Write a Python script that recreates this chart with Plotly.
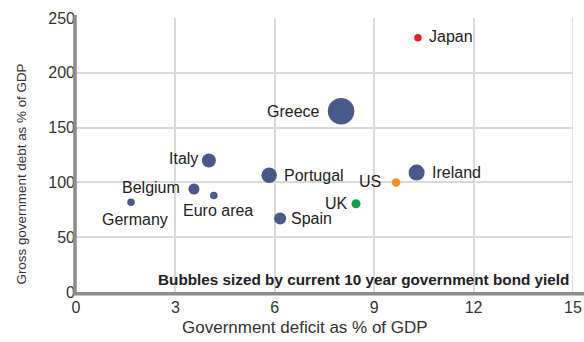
import plotly.graph_objects as go

# Government finances by country
countries = ["Japan", "Greece", "Italy", "Portugal", "Ireland", "US", "UK",
             "Spain", "Belgium", "Euro area", "Germany"]
deficit = [10.32, 8.0, 4.01, 5.83, 10.28, 9.66, 8.45, 6.16, 3.56, 4.16, 1.66]
debt = [232, 165, 120, 106.5, 109, 100, 80.5, 67, 94, 88, 82]
bond_yield = [0.88, 11.0, 3.06, 3.75, 4.0, 1.13, 1.27, 2.25, 1.9, 0.88, 0.88]

x_ticks = [0, 3, 6, 9, 12, 15]
y_ticks = [0, 50, 100, 150, 200, 250]

navy = "#48598a"
colors = ["#ec1c24", navy, navy, navy, navy, "#f7901e", "#0aa54b",
          navy, navy, navy, navy]

# label placement: (xanchor, yanchor, xshift, yshift)
label_pos = {
    "Japan": ("left", "middle", 9, 1),
    "Greece": ("right", "middle", -19, 0),
    "Italy": ("right", "middle", -9, 2),
    "Portugal": ("left", "middle", 13, 0),
    "Ireland": ("left", "middle", 13, 0),
    "US": ("right", "middle", -13, 1),
    "UK": ("right", "middle", -6, 0),
    "Spain": ("left", "middle", 9, 0),
    "Belgium": ("right", "middle", -12, 1),
    "Euro area": ("center", "middle", 4, -15),
    "Germany": ("center", "middle", 4, -17),
}

font = "Liberation Sans, Arial, sans-serif"
text_color = "#222222"

fig = go.Figure()
fig.add_trace(go.Scatter(
    x=deficit, y=debt, mode="markers",
    marker=dict(size=bond_yield, sizemode="area", sizeref=2 / 64,
                color=colors, line=dict(width=0), opacity=1),
    hovertext=countries, showlegend=False,
))

annotations = []
for name, x, y in zip(countries, deficit, debt):
    xa, ya, xs, ys = label_pos[name]
    annotations.append(dict(
        x=x, y=y, text=name, showarrow=False, xanchor=xa, yanchor=ya,
        xshift=xs, yshift=ys, font=dict(family=font, size=16, color=text_color),
    ))
annotations += [
    dict(x=0.996, xref="paper", y=11, yref="y", xanchor="right",
         yanchor="middle", showarrow=False,
         text="<b>Bubbles sized by current 10 year government bond yield</b>",
         font=dict(family=font, size=15.3, color=text_color)),
    # axis titles
    dict(x=0.461, xref="paper", y=-0.128, yref="paper", xanchor="center",
         yanchor="middle", showarrow=False,
         text="Government deficit as % of GDP",
         font=dict(family=font, size=17, color="#333333")),
    dict(x=-0.11, xref="paper", y=0.43, yref="paper", xanchor="center",
         yanchor="middle", showarrow=False, textangle=-90,
         text="Gross government debt as % of GDP",
         font=dict(family=font, size=13.4, color="#333333")),
]

fig.update_layout(
    width=584, height=342,
    margin=dict(l=76, r=11, t=18, b=50, autoexpand=False),
    paper_bgcolor="white", plot_bgcolor="white",
    font=dict(family=font, size=16, color="#333333"),
    annotations=annotations,
    shapes=[
        # heavy axis lines
        dict(type="line", xref="paper", yref="paper", x0=-0.002, x1=-0.002,
             y0=-0.007, y1=1.011, line=dict(color="#8c8c8c", width=3.5)),
        dict(type="line", xref="paper", yref="paper", x0=-0.006, x1=1.03,
             y0=-0.006, y1=-0.006, line=dict(color="#8c8c8c", width=3.5)),
    ],
)
fig.update_xaxes(
    range=[0, 15], tickvals=x_ticks, showgrid=True, automargin=False,
    gridcolor="#d9d9d9", gridwidth=1.5, zeroline=False, showline=False,
    ticks="", ticklabelstandoff=4, tickfont=dict(size=16, color="#333333"),
)
fig.update_yaxes(
    range=[0, 250], tickvals=y_ticks, showgrid=True, automargin=False,
    gridcolor="#d9d9d9", gridwidth=1.5, zeroline=False, showline=False,
    ticks="", tickfont=dict(size=16, color="#333333"),
)
# right border of the plot area
fig.add_vline(x=15, line=dict(color="#d9d9d9", width=1.5))

fig.write_html("out.html")
